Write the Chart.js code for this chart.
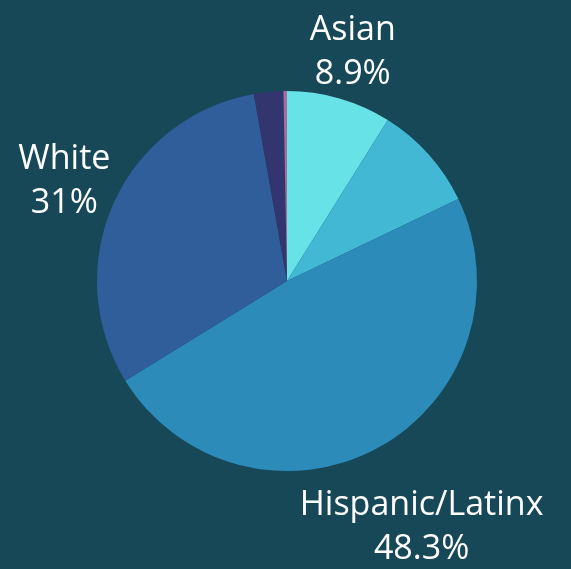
<!DOCTYPE html>
<html>
<head>
<meta charset="utf-8">
<script src="https://cdn.jsdelivr.net/npm/chart.js@4"></script>
<style>
  html, body { margin: 0; padding: 0; background: #174857; }
  #wrap { width: 571px; height: 569px; }
</style>
</head>
<body>
<div id="wrap"><canvas id="GraficaRaza" width="571" height="569"></canvas></div>
<script>
const categorias = ['Asian', 'Other', 'Hispanic/Latinx', 'White', 'Black', 'Native'];
const porcentajes = [8.9, 9.0, 48.3, 31, 2.5, 0.3];
const colores = ['#67e3e7', '#42b8d5', '#2d8bba', '#2f5e9a', '#33366e', '#a86b9e'];
const conEtiqueta = ['Asian', 'Hispanic/Latinx', 'White'];

const etiquetas = {
    id: 'etiquetas',
    afterDatasetsDraw(chart) {
        const ctx = chart.ctx;
        const meta = chart.getDatasetMeta(0);
        ctx.save();
        ctx.font = '34px "Open Sans"';
        ctx.fillStyle = '#ffffff';
        ctx.textAlign = 'center';
        ctx.textBaseline = 'middle';
        const lh = 44;
        meta.data.forEach(function(arc, i) {
            if (!conEtiqueta.includes(categorias[i])) return;
            const lineas = [categorias[i], porcentajes[i] + '%'];
            const w = Math.max.apply(null, lineas.map(l => ctx.measureText(l).width));
            const h = lh * 2;
            const mid = (arc.startAngle + arc.endAngle) / 2;
            const ux = Math.cos(mid), uy = Math.sin(mid);
            const ext = Math.abs(ux) * w / 2 + Math.abs(uy) * h / 2;
            const d = arc.outerRadius + ext - 6;
            const cx = arc.x + ux * d;
            const cy = arc.y + uy * d;
            ctx.fillText(lineas[0], cx, cy - lh / 2);
            ctx.fillText(lineas[1], cx, cy + lh / 2);
        });
        ctx.restore();
    }
};

const ctx = document.getElementById('GraficaRaza').getContext('2d');
const miGrafica = new Chart(ctx, {
    type: 'pie',
    data: {
        labels: categorias,
        datasets: [{
            data: porcentajes,
            backgroundColor: colores,
            borderWidth: 0
        }]
    },
    options: {
        responsive: false,
        animation: false,
        layout: { padding: { left: 97, right: 94, top: 91, bottom: 98 } },
        plugins: {
            legend: { display: false },
            tooltip: { enabled: false }
        }
    },
    plugins: [etiquetas]
});
</script>
</body>
</html>
